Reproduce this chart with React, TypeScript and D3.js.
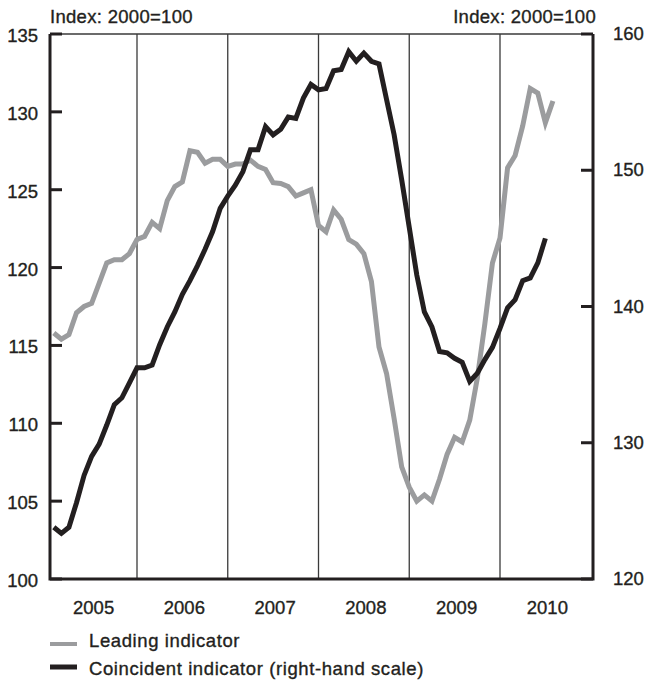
import * as d3 from "d3";

// Monthly values, Jan 2005 onwards
const leading = [
  115.8, 115.4, 115.7, 117.1, 117.5, 117.7, 119.0, 120.3, 120.5, 120.5, 120.9, 121.8,
  122.0, 122.9, 122.5, 124.3, 125.2, 125.5, 127.5, 127.4, 126.7, 126.95, 126.95, 126.5,
  126.65, 126.65, 126.9, 126.5, 126.3, 125.45, 125.4, 125.2, 124.6, 124.8, 125.0, 122.7,
  122.3, 123.7, 123.1, 121.8, 121.5, 120.9, 119.1, 114.9, 113.2, 110.3, 107.2, 105.9,
  105.0, 105.4, 105.0, 106.4, 108.0, 109.1, 108.8, 110.2, 112.9, 116.4, 120.3, 121.9,
  126.4, 127.2, 129.1, 131.5, 131.2, 129.3, 130.7,
];

const coincident = [
  123.8, 123.35, 123.8, 125.6, 127.6, 129.0, 129.9, 131.3, 132.8, 133.3, 134.4, 135.5,
  135.5, 135.7, 137.2, 138.5, 139.6, 140.9, 141.9, 143.0, 144.2, 145.5, 147.2, 148.1,
  148.9, 149.9, 151.5, 151.5, 153.2, 152.6, 153.0, 153.9, 153.8, 155.3, 156.3, 155.9,
  156.0, 157.3, 157.4, 158.7, 158.0, 158.6, 158.0, 157.8, 155.2, 152.6, 149.3, 145.8,
  142.3, 139.6, 138.5, 136.7, 136.6, 136.2, 135.9, 134.5, 135.1, 136.1, 137.0, 138.4,
  139.9, 140.5, 141.9, 142.1, 143.2, 145.0,
];

const years = ["2005", "2006", "2007", "2008", "2009", "2010"];
const leftTicks = [100, 105, 110, 115, 120, 125, 130, 135];
const rightTicks = [120, 130, 140, 150, 160];

const W = 647;
const H = 681;
const left = 50;
const right = 593;
const top = 34;
const bottom = 579;
const ink = "#231f20";
const grey = "#9b9c9e";
const font = "'Liberation Sans', Arial, sans-serif";

// shared text styling: a hair of stroke to get the medium weight
const txt = { fill: ink, stroke: ink, strokeWidth: 0.35, fontSize: 18.5 };

export default function App() {
  const x = d3.scaleLinear().domain([0, 72]).range([46.25, 590.75]);
  const yL = d3.scaleLinear().domain([100, 135]).range([bottom, top]);
  const yR = d3.scaleLinear().domain([120, 160]).range([bottom, top]);

  const leadLine = d3
    .line<number>()
    .x((_, i) => x(i + 1))
    .y((d) => yL(d));
  const coinLine = d3
    .line<number>()
    .x((_, i) => x(i + 1))
    .y((d) => yR(d));

  return (
    <svg
      width={W}
      height={H}
      style={{ position: "absolute", left: 0, top: 0, background: "#fff" }}
      fontFamily={font}
    >
      {/* year dividers */}
      {[12, 24, 36, 48, 60].map((m) => (
        <line key={m} x1={x(m)} x2={x(m)} y1={top} y2={bottom} stroke="#3a3a3a" strokeWidth={1.3} />
      ))}
      <line x1={left} x2={right} y1={top} y2={top} stroke="#3a3a3a" strokeWidth={1.6} />

      <path d={leadLine(leading) ?? ""} fill="none" stroke={grey} strokeWidth={5} />
      <path d={coinLine(coincident) ?? ""} fill="none" stroke={ink} strokeWidth={5} />

      {/* frame */}
      <path
        d={`M${left},${top}V${bottom}H${right}V${top}`}
        fill="none"
        stroke={ink}
        strokeWidth={3}
      />

      {/* left axis */}
      {leftTicks.map((t) => (
        <g key={t}>
          <line x1={left} x2={left + 12} y1={yL(t)} y2={yL(t)} stroke={ink} strokeWidth={3} />
          <text x={38} y={yL(t) + 8} textAnchor="end" {...txt}>
            {t}
          </text>
        </g>
      ))}

      {/* right axis */}
      {rightTicks.map((t) => (
        <g key={t}>
          <line x1={right - 12} x2={right} y1={yR(t)} y2={yR(t)} stroke={ink} strokeWidth={3} />
          <text x={613} y={yR(t) + 6} {...txt}>
            {t}
          </text>
        </g>
      ))}

      <text x={50} y={23} letterSpacing={0.3} {...txt}>
        Index: 2000=100
      </text>
      <text x={596} y={23} textAnchor="end" letterSpacing={0.3} {...txt}>
        Index: 2000=100
      </text>

      {years.map((yr, k) => (
        <text key={yr} x={x(k * 12 + 6) + 2} y={614} textAnchor="middle" {...txt}>
          {yr}
        </text>
      ))}

      {/* legend */}
      <line x1={50} x2={77} y1={644} y2={644} stroke={grey} strokeWidth={4} />
      <text x={89} y={647} letterSpacing={0.6} {...txt}>
        Leading indicator
      </text>
      <line x1={50} x2={77} y1={667} y2={667} stroke={ink} strokeWidth={5} />
      <text x={89} y={675} letterSpacing={0.6} {...txt}>
        Coincident indicator (right-hand scale)
      </text>
    </svg>
  );
}
